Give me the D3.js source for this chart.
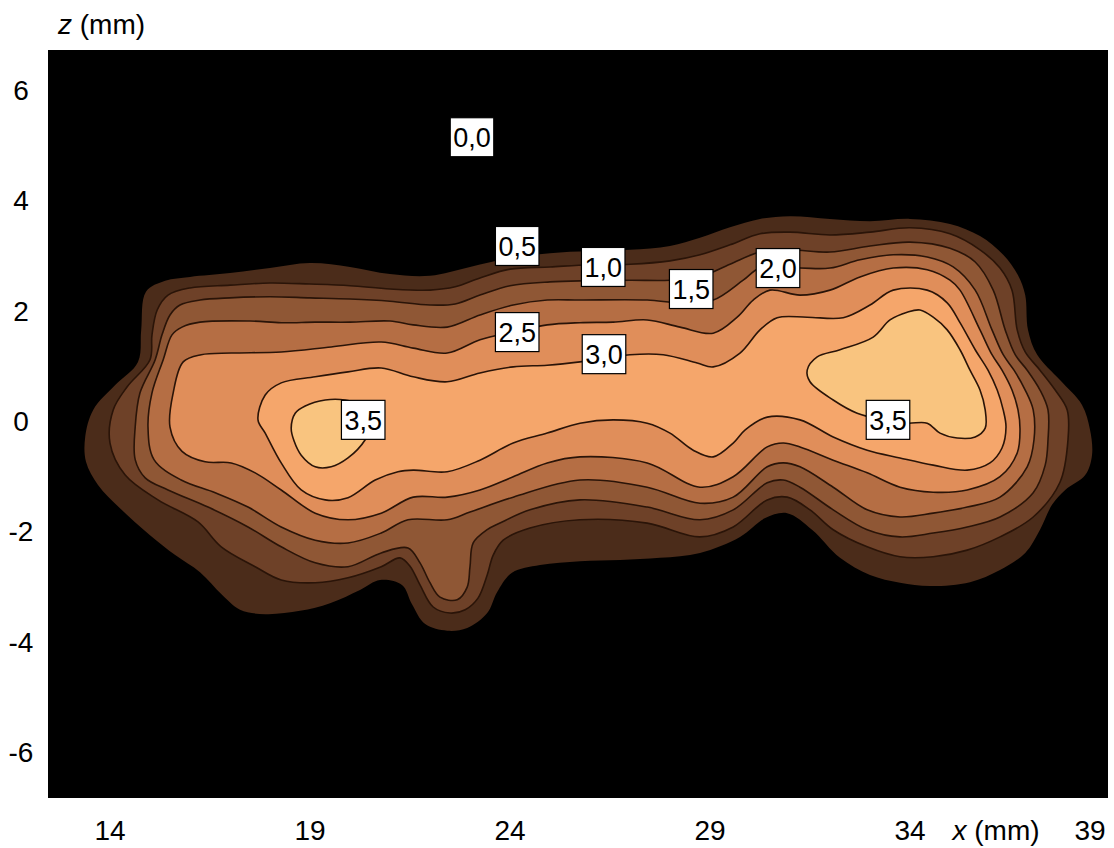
<!DOCTYPE html>
<html>
<head>
<meta charset="utf-8">
<script src="https://cdn.jsdelivr.net/npm/d3@7"></script>
<style>
  body { margin: 0; background: #fff; }
  svg { display: block; font-family: "Liberation Sans", Arial, sans-serif; }
</style>
</head>
<body>
<svg id="chart" width="1114" height="848"></svg>
<script>

// axis ticks (mm)
var xTicks = [14, 19, 24, 29, 34, 39]
var zTicks = [6, 4, 2, 0, -2, -4, -6]

// contour levels and band fill (band above each level)
var levels = [0.5, 1.0, 1.5, 2.0, 2.5, 3.0, 3.5]
var bandColors = ['#4b2c1a', '#6e4128', '#8f5735', '#b56e44', '#e08e5a', '#f5a66b', '#f9c47f']

// contour rings, [x mm, z mm]
var ring05 = [[13.38,-0.29],[13.58,0.20],[14.13,0.65],[14.70,1.07],[14.78,1.65],[14.90,2.34],[15.38,2.54],
  [16.00,2.61],[17.00,2.68],[18.00,2.77],[19.00,2.86],[20.00,2.79],[21.00,2.66],[22.00,2.63],[23.00,2.79],
  [24.00,2.95],[25.00,3.04],[26.00,3.08],[27.00,3.10],[28.00,3.17],[28.75,3.32],[29.50,3.51],[30.25,3.66],
  [31.00,3.71],[32.00,3.66],[33.00,3.62],[34.00,3.66],[35.00,3.57],[35.75,3.35],[36.33,3.01],[36.70,2.64],
  [36.88,2.28],[36.95,1.65],[37.18,1.20],[37.75,0.74],[38.30,0.29],[38.50,-0.16],[38.55,-0.62],[38.38,-0.98],
  [37.88,-1.25],[37.55,-1.52],[37.25,-1.97],[36.88,-2.39],[36.25,-2.70],[35.50,-2.92],[34.50,-2.99],
  [33.75,-2.93],[33.00,-2.79],[32.25,-2.48],[31.55,-1.97],[30.93,-1.67],[30.38,-1.76],[29.75,-2.10],
  [28.75,-2.39],[27.75,-2.48],[26.75,-2.52],[25.75,-2.54],[24.75,-2.61],[24.05,-2.75],[23.68,-3.10],
  [23.43,-3.48],[22.93,-3.75],[22.43,-3.80],[21.88,-3.68],[21.55,-3.32],[21.30,-2.97],[20.75,-2.88],
  [20.25,-3.06],[19.50,-3.30],[18.75,-3.44],[17.88,-3.50],[17.25,-3.42],[16.80,-3.15],[16.25,-2.74],
  [15.63,-2.43],[15.00,-2.07],[14.25,-1.58],[13.70,-1.16],[13.40,-0.74]]

var ring10 = [[14.00,-0.40],[14.08,0.20],[14.43,0.62],[15.00,1.11],[15.05,1.56],[15.18,2.01],[15.45,2.28],
  [16.00,2.41],[17.00,2.46],[18.00,2.50],[19.00,2.48],[20.00,2.45],[21.00,2.39],[22.00,2.37],[22.63,2.43],
  [23.25,2.59],[24.00,2.75],[25.00,2.79],[26.00,2.83],[27.00,2.84],[28.00,2.90],[28.75,3.01],[29.50,3.19],
  [30.25,3.39],[31.00,3.42],[32.00,3.37],[33.00,3.42],[34.00,3.50],[35.00,3.39],[35.75,3.10],[36.25,2.77],
  [36.55,2.37],[36.68,1.65],[36.88,1.25],[37.25,0.92],[37.63,0.56],[37.93,0.20],[37.95,-0.34],[37.75,-1.11],
  [37.08,-1.74],[36.25,-2.10],[35.43,-2.34],[34.58,-2.46],[33.75,-2.46],[32.93,-2.28],[32.08,-1.97],
  [31.50,-1.61],[30.93,-1.38],[30.43,-1.43],[29.58,-1.92],[28.75,-2.10],[27.43,-1.85],[25.75,-1.79],
  [24.50,-1.94],[23.83,-2.16],[23.58,-2.43],[23.43,-2.79],[23.20,-3.21],[22.88,-3.42],[22.50,-3.48],
  [22.08,-3.37],[21.75,-2.97],[21.50,-2.63],[21.25,-2.48],[20.78,-2.64],[19.95,-2.84],[19.13,-2.93],
  [18.28,-2.88],[17.63,-2.64],[16.78,-2.28],[16.20,-1.83],[15.20,-1.43],[14.38,-0.98]]

var ring15 = [[14.63,-0.11],[14.75,0.51],[15.13,1.11],[15.30,1.56],[15.50,1.92],[15.75,2.10],[16.25,2.19],
  [17.00,2.23],[18.00,2.25],[19.00,2.23],[20.00,2.21],[21.00,2.17],[22.00,2.10],[22.63,2.12],[23.25,2.28],
  [24.00,2.45],[25.00,2.52],[26.00,2.54],[27.00,2.55],[28.00,2.55],[28.75,2.61],[29.50,2.84],[30.25,3.06],
  [31.00,3.10],[32.00,3.06],[33.00,3.17],[34.00,3.24],[35.00,3.13],[35.63,2.88],[36.08,2.37],[36.38,1.65],
  [36.63,1.20],[36.93,0.92],[37.25,0.56],[37.45,0.20],[37.45,-0.34],[37.38,-0.80],[37.08,-1.30],
  [36.25,-1.74],[35.43,-1.92],[34.58,-2.03],[33.75,-2.10],[32.93,-1.97],[32.08,-1.61],[31.25,-1.20],
  [30.83,-1.07],[30.43,-1.12],[29.58,-1.61],[28.75,-1.79],[27.43,-1.56],[25.75,-1.43],[24.50,-1.61],
  [23.75,-1.85],[23.43,-1.97],[23.08,-2.21],[23.00,-2.64],[22.93,-3.01],[22.68,-3.24],[22.25,-3.19],
  [22.00,-2.93],[21.75,-2.57],[21.45,-2.30],[20.78,-2.39],[19.95,-2.64],[19.13,-2.57],[18.28,-2.28],
  [17.45,-1.92],[16.45,-1.56],[15.45,-1.25],[14.88,-1.03],[14.63,-0.70]]

var ring20 = [[14.95,-0.11],[15.05,0.51],[15.33,1.11],[15.55,1.56],[15.80,1.70],[16.25,1.79],[17.50,1.81],
  [18.28,1.78],[19.13,1.79],[20.00,1.79],[21.00,1.81],[21.58,1.74],[22.43,1.70],[23.25,1.92],[24.08,2.10],
  [24.93,2.19],[25.75,2.19],[27.43,2.19],[28.25,2.14],[29.08,2.19],[29.83,2.55],[30.25,2.77],[31.25,2.77],
  [32.00,2.77],[32.75,2.92],[33.58,3.01],[34.43,2.97],[35.08,2.79],[35.63,2.37],[36.05,1.65],[36.33,1.20],
  [36.60,0.92],[36.88,0.56],[37.08,0.20],[37.10,-0.34],[36.93,-0.83],[36.25,-1.38],[35.43,-1.56],
  [34.58,-1.67],[33.75,-1.74],[32.93,-1.61],[32.08,-1.20],[31.25,-0.83],[30.83,-0.76],[30.43,-0.83],
  [29.58,-1.38],[28.75,-1.49],[27.43,-1.20],[25.75,-1.07],[24.08,-1.38],[23.00,-1.65],[22.43,-1.79],
  [21.45,-1.79],[20.78,-2.03],[19.95,-2.21],[19.13,-2.16],[18.28,-1.92],[17.45,-1.56],[16.63,-1.30],
  [15.78,-1.07],[15.10,-0.70]]

var ring25 = [[15.50,-0.11],[15.58,0.51],[15.83,1.07],[16.28,1.20],[17.03,1.23],[18.28,1.25],[19.53,1.34],
  [20.78,1.43],[21.58,1.32],[22.43,1.23],[23.25,1.47],[24.08,1.61],[24.93,1.74],[25.75,1.78],[26.58,1.79],
  [27.43,1.83],[28.25,1.70],[29.08,1.59],[29.68,1.88],[30.08,2.19],[30.50,2.37],[31.25,2.28],[32.00,2.37],
  [32.75,2.61],[33.58,2.77],[34.43,2.74],[35.00,2.55],[35.25,2.37],[35.75,1.65],[36.05,1.20],[36.30,0.92],
  [36.55,0.56],[36.70,0.20],[36.75,-0.16],[36.68,-0.58],[36.25,-1.01],[35.43,-1.25],[34.58,-1.29],
  [33.75,-1.20],[32.93,-0.94],[32.08,-0.71],[31.25,-0.47],[30.83,-0.40],[30.43,-0.47],[29.58,-1.01],
  [28.75,-1.20],[27.43,-0.76],[25.75,-0.65],[24.93,-0.76],[24.08,-1.01],[23.25,-1.25],[22.43,-1.38],
  [21.58,-1.38],[20.78,-1.67],[19.95,-1.79],[19.13,-1.67],[18.28,-1.25],[17.63,-0.94],[17.03,-0.76],
  [16.38,-0.74],[15.80,-0.55]]

var ring30 = [[17.70,0.02],[17.88,0.47],[18.28,0.69],[19.13,0.80],[19.95,0.89],[20.78,0.96],[21.58,0.80],
  [22.43,0.71],[23.25,0.87],[24.08,0.98],[24.93,1.01],[25.75,1.07],[27.00,1.20],[27.83,1.20],[28.68,1.05],
  [29.08,0.98],[29.75,1.23],[30.25,1.65],[30.68,1.87],[31.43,1.88],[32.33,1.87],[33.00,2.10],[33.58,2.37],
  [34.43,2.37],[34.93,2.14],[35.25,1.78],[35.63,1.29],[35.95,0.92],[36.18,0.56],[36.33,0.20],[36.40,-0.11],
  [36.30,-0.49],[36.00,-0.76],[35.43,-0.89],[34.58,-0.80],[33.75,-0.67],[32.93,-0.53],[32.08,-0.29],
  [31.25,0.02],[30.43,0.07],[29.88,-0.16],[29.58,-0.40],[29.08,-0.65],[28.58,-0.53],[28.00,-0.22],
  [27.43,-0.04],[26.58,0.02],[25.75,-0.04],[24.93,-0.22],[24.08,-0.40],[23.25,-0.71],[22.43,-0.92],
  [21.58,-0.89],[21.20,-0.92],[20.63,-1.07],[19.95,-1.39],[19.38,-1.43],[18.78,-1.25],[18.28,-0.76],
  [17.88,-0.22]]

var ring35left = [[18.53,-0.13],[18.63,0.14],[18.88,0.27],[19.38,0.38],[19.88,0.38],[20.30,0.29],
  [20.55,-0.02],[20.38,-0.34],[19.95,-0.67],[19.53,-0.83],[19.13,-0.83],[18.78,-0.62],[18.60,-0.36]]

var ring35right = [[31.43,0.92],[31.68,1.16],[32.25,1.29],[33.08,1.52],[33.50,1.83],[33.93,1.97],
  [34.25,2.01],[34.58,1.88],[34.93,1.65],[35.25,1.29],[35.50,0.92],[35.75,0.56],[35.88,0.20],[35.88,-0.13],
  [35.63,-0.29],[35.18,-0.31],[34.75,-0.22],[34.43,-0.04],[33.93,-0.04],[33.33,0.02],[32.68,0.14],
  [32.08,0.38],[31.50,0.71]]

var contourRings = [
  {level: 0.5, pts: ring05},
  {level: 1.0, pts: ring10},
  {level: 1.5, pts: ring15},
  {level: 2.0, pts: ring20},
  {level: 2.5, pts: ring25},
  {level: 3.0, pts: ring30},
  {level: 3.5, pts: ring35left},
  {level: 3.5, pts: ring35right}
]

// boxed level labels
var labelTexts = ['0,0', '0,5', '1,0', '1,5', '2,0', '2,5', '3,0', '3,5', '3,5']
var labelX = [23.05, 24.18, 26.33, 28.53, 30.70, 24.18, 26.35, 20.33, 33.45]
var labelZ = [5.14, 3.17, 2.79, 2.39, 2.77, 1.61, 1.21, 0.02, 0.02]



var margin = {left: 48, top: 50, right: 6, bottom: 50}
var width = 1114, height = 848

var x = d3.scaleLinear().domain([12.45, 38.95]).range([margin.left, width - margin.right])
var y = d3.scaleLinear().domain([-6.83, 6.72]).range([height - margin.bottom, margin.top])

var color = d3.scaleOrdinal().domain(levels).range(bandColors)

var svg = d3.select('#chart')

svg.append('clipPath').attr('id', 'plot-clip')
  .append('rect')
  .attr('x', x.range()[0]).attr('y', y.range()[1])
  .attr('width', x.range()[1] - x.range()[0])
  .attr('height', y.range()[0] - y.range()[1])

svg.append('rect')
  .attr('x', x.range()[0]).attr('y', y.range()[1])
  .attr('width', x.range()[1] - x.range()[0])
  .attr('height', y.range()[0] - y.range()[1])
  .attr('fill', '#000')

var line = d3.line()
  .x(d => x(d[0]))
  .y(d => y(d[1]))
  .curve(d3.curveCatmullRomClosed.alpha(0.5))

var plot = svg.append('g').attr('clip-path', 'url(#plot-clip)')

plot.selectAll('path.band')
  .data(contourRings)
  .join('path')
  .attr('class', 'band')
  .attr('d', d => line(d.pts))
  .attr('fill', d => color(d.level))
  .attr('stroke', d => d.level > 0.5 ? '#2a1408' : 'none')
  .attr('stroke-width', 1.6)
  .attr('stroke-linejoin', 'round')


// level labels in white boxes
var labels = svg.append('g').selectAll('g')
  .data(labelTexts.map((t, i) => ({text: t, x: labelX[i], z: labelZ[i]})))
  .join('g')
  .attr('transform', d => `translate(${x(d.x)},${y(d.z)})`)

labels.append('rect')
labels.append('text')
  .text(d => d.text)
  .attr('text-anchor', 'middle')
  .attr('dy', '0.36em')
  .attr('font-size', 27)
  .attr('fill', '#000')

labels.each(function(){
  var g = d3.select(this)
  var bb = g.select('text').node().getBBox()
  g.select('rect')
    .attr('x', -bb.width/2 - 3).attr('y', -19.5)
    .attr('width', bb.width + 6).attr('height', 39)
    .attr('fill', '#fff')
    .attr('stroke', '#000')
    .attr('stroke-width', 1.2)
})


// axes: labels only, no tick marks
svg.append('g').selectAll('text')
  .data(xTicks)
  .join('text')
  .attr('x', d => Math.min(x(d), width - 24))
  .attr('y', height - 8)
  .attr('text-anchor', 'middle')
  .attr('font-size', 28)
  .text(d => d)

svg.append('g').selectAll('text')
  .data(zTicks)
  .join('text')
  .attr('x', 21)
  .attr('y', d => y(d))
  .attr('dy', '0.36em')
  .attr('text-anchor', 'middle')
  .attr('font-size', 28)
  .text(d => d)

var xTitle = svg.append('text')
  .attr('x', x(36.15)).attr('y', height - 8)
  .attr('text-anchor', 'middle')
  .attr('font-size', 28)
xTitle.append('tspan').attr('font-style', 'italic').text('x')
xTitle.append('tspan').text(' (mm)')

var zTitle = svg.append('text')
  .attr('x', 58).attr('y', 34)
  .attr('font-size', 28)
zTitle.append('tspan').attr('font-style', 'italic').text('z')
zTitle.append('tspan').text(' (mm)')

</script>
</body>
</html>
